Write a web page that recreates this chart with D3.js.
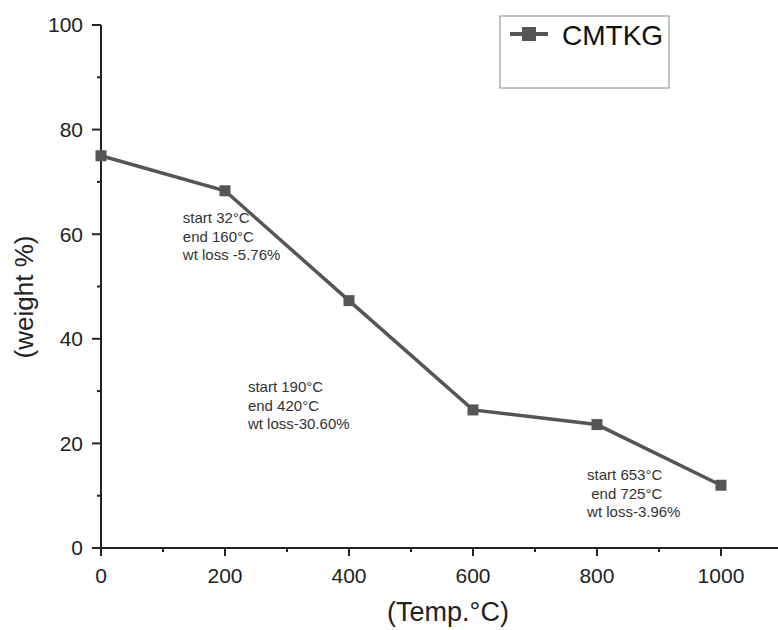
<!DOCTYPE html>
<html>
<head>
<meta charset="utf-8">
<script src="https://cdn.jsdelivr.net/npm/d3@7"></script>
<style>
  body { margin: 0; background: #fff; }
  text { font-family: "Liberation Sans", Arial, sans-serif; }
</style>
</head>
<body>
<div id="main_output"></div>
<script>
// data
var temps = [0, 200, 400, 600, 800, 1000];
var weights = [75, 68.3, 47.3, 26.4, 23.6, 12];
var xTicks = [0, 200, 400, 600, 800, 1000];
var yTicks = [0, 20, 40, 60, 80, 100];
var seriesName = "CMTKG";
var notes = [
  {x: 132, y: 62.1, lines: ["start 32°C", "end 160°C", "wt loss -5.76%"]},
  {x: 237, y: 29.8, lines: ["start 190°C", "end 420°C", "wt loss-30.60%"]},
  {x: 784, y: 13.0, lines: ["start 653°C", " end 725°C", "wt loss-3.96%"]}
];

var width = 778, height = 630;
var svg = d3.select("#main_output").append("svg")
  .attr("width", width).attr("height", height);

var xScale = d3.scaleLinear().domain([0, 1092]).range([101, 778]);
var yScale = d3.scaleLinear().domain([0, 100]).range([548, 25]);

var ink = "#222";

// x axis
var xAxis = svg.append("g").attr("transform", "translate(0," + yScale(0) + ")");
xAxis.append("line").attr("x1", xScale(0)).attr("x2", 778)
  .attr("stroke", ink).attr("stroke-width", 2);
xAxis.selectAll(".minor").data(d3.range(100, 1092, 200)).enter().append("line")
  .attr("x1", function(d) { return xScale(d); }).attr("x2", function(d) { return xScale(d); })
  .attr("y1", 0).attr("y2", 4).attr("stroke", ink).attr("stroke-width", 2);
xAxis.selectAll(".major").data(xTicks).enter().append("line")
  .attr("x1", function(d) { return xScale(d); }).attr("x2", function(d) { return xScale(d); })
  .attr("y1", 0).attr("y2", 8).attr("stroke", ink).attr("stroke-width", 2);
xAxis.selectAll(".lbl").data(xTicks).enter().append("text")
  .attr("x", function(d) { return xScale(d); }).attr("y", 35)
  .attr("text-anchor", "middle").attr("font-size", 21).attr("fill", ink)
  .text(function(d) { return d; });

// y axis
var yAxis = svg.append("g").attr("transform", "translate(" + xScale(0) + ",0)");
yAxis.append("line").attr("y1", yScale(0) + 1).attr("y2", yScale(100))
  .attr("stroke", ink).attr("stroke-width", 2);
yAxis.selectAll(".minor").data(d3.range(10, 100, 20)).enter().append("line")
  .attr("y1", function(d) { return yScale(d); }).attr("y2", function(d) { return yScale(d); })
  .attr("x1", 0).attr("x2", -4).attr("stroke", ink).attr("stroke-width", 2);
yAxis.selectAll(".major").data(yTicks).enter().append("line")
  .attr("y1", function(d) { return yScale(d); }).attr("y2", function(d) { return yScale(d); })
  .attr("x1", 0).attr("x2", -9).attr("stroke", ink).attr("stroke-width", 2);
yAxis.selectAll(".lbl").data(yTicks).enter().append("text")
  .attr("x", -18).attr("y", function(d) { return yScale(d); }).attr("dy", "0.35em")
  .attr("text-anchor", "end").attr("font-size", 21).attr("fill", ink)
  .text(function(d) { return d; });

// axis titles
svg.append("text").attr("x", 448).attr("y", 621)
  .attr("text-anchor", "middle").attr("font-size", 27).attr("fill", ink)
  .text("(Temp.°C)");
svg.append("text")
  .attr("transform", "translate(33," + 297 + ") rotate(-90)")
  .attr("text-anchor", "middle").attr("font-size", 26).attr("fill", ink)
  .text("(weight %)");

// series
var pts = temps.map(function(t, i) { return {x: t, y: weights[i]}; });
var line = d3.line()
  .x(function(d) { return xScale(d.x); })
  .y(function(d) { return yScale(d.y); });
svg.append("path").datum(pts).attr("d", line)
  .attr("fill", "none").attr("stroke", "#555").attr("stroke-width", 3.5);
svg.selectAll(".pt").data(pts).enter().append("rect")
  .attr("x", function(d) { return xScale(d.x) - 5.5; })
  .attr("y", function(d) { return yScale(d.y) - 5.5; })
  .attr("width", 11).attr("height", 11).attr("fill", "#555");

// annotations
notes.forEach(function(n) {
  var t = svg.append("text").attr("font-size", 15).attr("fill", "#333")
    .attr("x", xScale(n.x)).attr("y", yScale(n.y))
    .attr("xml:space", "preserve");
  n.lines.forEach(function(l, i) {
    t.append("tspan").attr("x", xScale(n.x)).attr("dy", i === 0 ? 0 : 18.5).text(l);
  });
});

// legend
var leg = svg.append("g").attr("transform", "translate(500,16)");
leg.append("rect").attr("width", 169).attr("height", 72)
  .attr("fill", "#fff").attr("stroke", "#888").attr("stroke-width", 1);
leg.append("line").attr("x1", 10).attr("x2", 48).attr("y1", 18).attr("y2", 18)
  .attr("stroke", "#555").attr("stroke-width", 4);
leg.append("rect").attr("x", 22).attr("y", 11).attr("width", 14).attr("height", 14).attr("fill", "#555");
leg.append("text").attr("x", 62).attr("y", 29).attr("font-size", 28).attr("fill", "#111")
  .text(seriesName);
</script>
</body>
</html>
